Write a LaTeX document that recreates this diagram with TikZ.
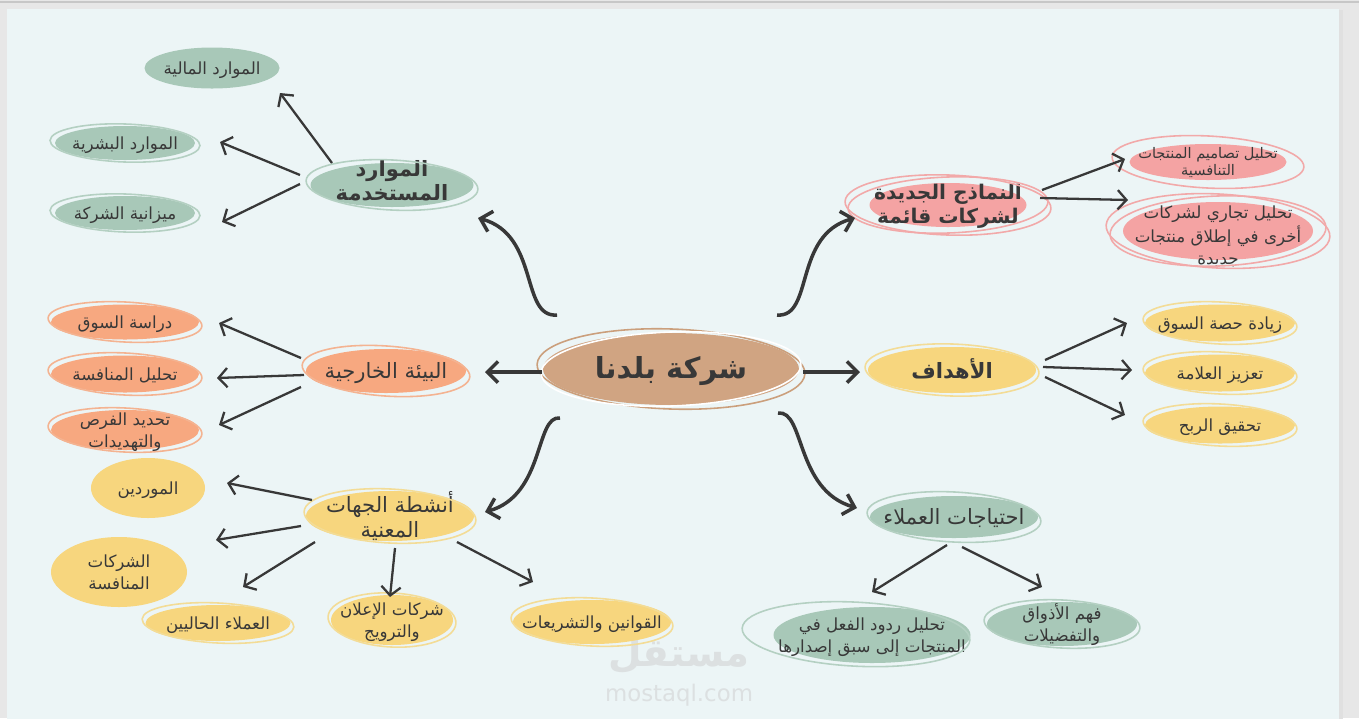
\documentclass[tikz,border=0pt]{standalone}
\usepackage{fontspec}
\newfontfamily\arabicfont[Script=Arabic]{DejaVu Sans}
\usetikzlibrary{arrows.meta, shapes.geometric, calc}
\TeXXeTstate=1

\definecolor{ink}{HTML}{383838}
\definecolor{outer}{HTML}{E7E7E7}
\definecolor{panel}{HTML}{ECF5F6}
\definecolor{sage}{HTML}{A8C8B8}
\definecolor{sageline}{HTML}{B4D0C2}
\definecolor{rose}{HTML}{F4A3A3}
\definecolor{roseline}{HTML}{F2A9A9}
\definecolor{peach}{HTML}{F7A880}
\definecolor{peachline}{HTML}{F4B391}
\definecolor{sun}{HTML}{F7D67E}
\definecolor{sunline}{HTML}{F3DC96}
\definecolor{tan}{HTML}{D0A482}
\definecolor{tanline}{HTML}{CB9F7C}
\definecolor{mark}{HTML}{DCE0E1}

\newcommand\pu{0.02cm}
\newcommand\ar[1]{\beginR #1\endR}
\newcommand\lbl[1]{\raisebox{-0.36em}[0pt][0pt]{\makebox[0pt]{\begin{tabular}{@{}c@{}}#1\end{tabular}}}}
\newcommand\halo[5]{\draw[#2, line width=0.9pt, rotate around={#5:#1}] #1 ellipse [x radius=#3, y radius=#4];}

\tikzset{
  blob/.style={ellipse, inner sep=0pt, text=ink},
  sz/.style 2 args={minimum width=#1*\pu, minimum height=#2*\pu},
  leaf/.style={blob, font=\arabicfont\fontsize{9.5}{12.5}\selectfont},
  tiny/.style={blob, font=\arabicfont\fontsize{8.3}{9.5}\selectfont},
  hub/.style={blob, font=\arabicfont\fontsize{12}{14}\selectfont},
  boldhub/.style={blob, font=\arabicfont\bfseries\fontsize{12}{13.5}\selectfont},
  bigarrow/.style={draw=ink, line width=2pt, -{Straight Barb[length=6pt, width=12pt]}},
  arrow/.style={draw=ink, line width=1.3pt, -{Straight Barb[length=5pt, width=11pt]}},
}

\begin{document}
\begin{tikzpicture}[x=0.02cm, y=-0.02cm]
\useasboundingbox (0,0) rectangle (1359,718);
% page and sheet
\fill[outer] (0,0) rectangle (1359,718);
\draw[black!22, line width=0.6pt] (0,2) -- (1359,2);
\fill[black!12] (8,10) rectangle (1343,720);
\fill[panel] (7,9) rectangle (1339,720);

% watermark
\node[text=mark, inner sep=0pt, font=\arabicfont\bfseries\fontsize{22}{22}\selectfont] (wm) at (679,655) {\ar{مستقل}};
\node[text=mark, inner sep=0pt, font=\arabicfont\fontsize{13}{13}\selectfont] (wmurl) at (679,695) {mostaql.com};

% centre
\node[blob, fill=tan, sz={256}{72}, font=\arabicfont\bfseries\fontsize{16.5}{18}\selectfont] (core) at (671,369) {\lbl{\ar{شركة بلدنا}}};
\halo{(core)}{tanline}{134}{40}{-2}
\halo{(core)}{white}{130}{37}{2}

% used resources
\node[boldhub, fill=sage, sz={163}{44}] (res) at (392,185) {\raisebox{4pt}{\lbl{\ar{الموارد}\\\ar{المستخدمة}}}};
\halo{(res)}{sageline}{86}{25}{-3}
\node[leaf, fill=sage, sz={135}{41}] (fin) at (212,68) {\lbl{\ar{الموارد المالية}}};
\node[leaf, fill=sage, sz={140}{34}] (hum) at (125,143) {\lbl{\ar{الموارد البشرية}}};
\halo{(hum)}{sageline}{75}{19}{-2}
\node[leaf, fill=sage, sz={140}{34}] (bud) at (125,213) {\lbl{\ar{ميزانية الشركة}}};
\halo{(bud)}{sageline}{75}{19}{-2}

% new models
\node[boldhub, fill=rose, sz={157}{44}, font=\arabicfont\bfseries\fontsize{11.5}{13.5}\selectfont] (models) at (948,205) {\lbl{\ar{النماذج الجديدة}\\\ar{لشركات قائمة}}};
\halo{(models)}{roseline}{103}{30}{-2}
\halo{(models)}{roseline}{100}{28}{2}
\node[tiny, fill=rose, sz={157}{36}] (design) at (1208,162) {\lbl{\ar{تحليل تصاميم المنتجات}\\\ar{التنافسية}}};
\halo{(design)}{roseline}{96}{26}{-3}
\node[leaf, fill=rose, sz={190}{58}] (comm) at (1218,231) {\raisebox{-4.5pt}{\lbl{\ar{تحليل تجاري لشركات}\\\ar{أخرى في إطلاق  منتجات}\\\ar{جديدة}}}};
\halo{(comm)}{roseline}{112}{37}{-3}
\halo{(comm)}{roseline}{108}{35}{2}

% external environment
\node[hub, fill=peach, sz={160}{44}] (env) at (386,371) {\lbl{\ar{البيئة الخارجية}}};
\halo{(env)}{peachline}{84}{25}{-4}
\node[leaf, fill=peach, sz={148}{35}] (mkt) at (125,322) {\lbl{\ar{دراسة السوق}}};
\halo{(mkt)}{peachline}{77}{20}{-3}
\node[leaf, fill=peach, sz={148}{37}] (comp) at (125,374) {\lbl{\ar{تحليل المنافسة}}};
\halo{(comp)}{peachline}{77}{21}{-3}
\node[leaf, fill=peach, sz={148}{40}] (opp) at (125,430) {\lbl{\ar{تحديد الفرص}\\\ar{والتهديدات}}};
\halo{(opp)}{peachline}{77}{22}{-3}

% goals
\node[boldhub, fill=sun, sz={168}{46}] (goals) at (952,370) {\lbl{\ar{الأهداف}}};
\halo{(goals)}{sunline}{87}{26}{-2}
\node[leaf, fill=sun, sz={150}{37}] (share) at (1220,323) {\lbl{\ar{زيادة حصة السوق}}};
\halo{(share)}{sunline}{77}{21}{-3}
\node[leaf, fill=sun, sz={150}{37}] (brand) at (1220,373) {\lbl{\ar{تعزيز العلامة}}};
\halo{(brand)}{sunline}{77}{21}{-3}
\node[leaf, fill=sun, sz={150}{37}] (profit) at (1220,425) {\lbl{\ar{تحقيق الربح}}};
\halo{(profit)}{sunline}{77}{21}{-3}

% stakeholders
\node[hub, fill=sun, sz={168}{50}] (stake) at (390,516) {\lbl{\ar{أنشطة الجهات}\\\ar{المعنية}}};
\halo{(stake)}{sunline}{86}{27}{-3}
\node[leaf, fill=sun, sz={114}{60}] (supp) at (148,488) {\lbl{\ar{الموردين}}};
\node[leaf, fill=sun, sz={136}{70}] (rivals) at (119,572) {\lbl{\ar{الشركات}\\\ar{المنافسة}}};
\node[leaf, fill=sun, sz={145}{36}] (clients) at (218,623) {\lbl{\ar{العملاء الحاليين}}};
\halo{(clients)}{sunline}{76}{20}{-3}
\node[leaf, fill=sun, sz={122}{50}] (ads) at (392,620) {\lbl{\ar{شركات الإعلان}\\\ar{والترويج}}};
\halo{(ads)}{sunline}{64}{27}{-3}
\node[leaf, fill=sun, sz={158}{44}] (laws) at (592,622) {\lbl{\ar{القوانين والتشريعات}}};
\halo{(laws)}{sunline}{81}{24}{-3}

% customer needs
\node[hub, fill=sage, sz={168}{42}] (needs) at (954,517) {\lbl{\ar{احتياجات العملاء}}};
\halo{(needs)}{sageline}{87}{25}{-3}
\node[leaf, fill=sage, sz={197}{56}] (react) at (872,635) {\lbl{\ar{تحليل ردود الفعل في}\\\ar{المنتجات إلى سبق إصدارها}}};
\halo{([shift={(-16,0)}]react.center)}{sageline}{114}{32}{-3}
\node[leaf, fill=sage, sz={150}{44}] (tastes) at (1062,624) {\lbl{\ar{فهم الأذواق}\\\ar{والتفضيلات}}};
\halo{(tastes)}{sageline}{78}{24}{-3}

% from the centre
\draw[bigarrow] ([shift={(-114,-54)}]core.center) .. controls +(-37,3) and +(62,17) .. ([shift={(86,33)}]res.center);
\draw[bigarrow] ([shift={(106,-54)}]core.center) .. controls +(37,3) and +(-62,17) .. ([shift={(-93,13)}]models.center);
\draw[bigarrow] ([shift={(-129,3)}]core.center) -- ([shift={(99,1)}]env.center);
\draw[bigarrow] ([shift={(132,3)}]core.center) -- ([shift={(-92,2)}]goals.center);
\draw[bigarrow] ([shift={(-111,49)}]core.center) .. controls +(-25,-3) and +(60,-17) .. ([shift={(95,-4)}]stake.center);
\draw[bigarrow] ([shift={(107,44)}]core.center) .. controls +(27,-3) and +(-62,-18) .. ([shift={(-97,-9)}]needs.center);

% branches
\draw[arrow] ([shift={(-60,-22)}]res.center) -- ([shift={(68,25)}]fin.center);
\draw[arrow] ([shift={(-92,-10)}]res.center) -- ([shift={(95,-1)}]hum.center);
\draw[arrow] ([shift={(-92,-1)}]res.center) -- ([shift={(97,9)}]bud.center);

\draw[arrow] ([shift={(94,-15)}]models.center) -- ([shift={(-83,-3)}]design.center);
\draw[arrow] ([shift={(92,-7)}]models.center) -- ([shift={(-90,-31)}]comm.center);

\draw[arrow] ([shift={(-85,-13)}]env.center) -- ([shift={(94,1)}]mkt.center);
\draw[arrow] ([shift={(-82,4)}]env.center) -- ([shift={(92,4)}]comp.center);
\draw[arrow] ([shift={(-85,16)}]env.center) -- ([shift={(94,-5)}]opp.center);

\draw[arrow] ([shift={(93,-10)}]goals.center) -- ([shift={(-93,0)}]share.center);
\draw[arrow] ([shift={(91,-3)}]goals.center) -- ([shift={(-88,-3)}]brand.center);
\draw[arrow] ([shift={(93,7)}]goals.center) -- ([shift={(-95,-10)}]profit.center);

\draw[arrow] ([shift={(-78,-16)}]stake.center) -- ([shift={(79,-5)}]supp.center);
\draw[arrow] ([shift={(-89,10)}]stake.center) -- ([shift={(97,-32)}]rivals.center);
\draw[arrow] ([shift={(-75,26)}]stake.center) -- ([shift={(25,-36)}]clients.center);
\draw[arrow] ([shift={(5,32)}]stake.center) -- ([shift={(-2,-23)}]ads.center);
\draw[arrow] ([shift={(67,26)}]stake.center) -- ([shift={(-59,-40)}]laws.center);

\draw[arrow] ([shift={(-7,28)}]needs.center) -- ([shift={(0,-43)}]react.center);
\draw[arrow] ([shift={(8,30)}]needs.center) -- ([shift={(-20,-37)}]tastes.center);
\end{tikzpicture}
\end{document}
